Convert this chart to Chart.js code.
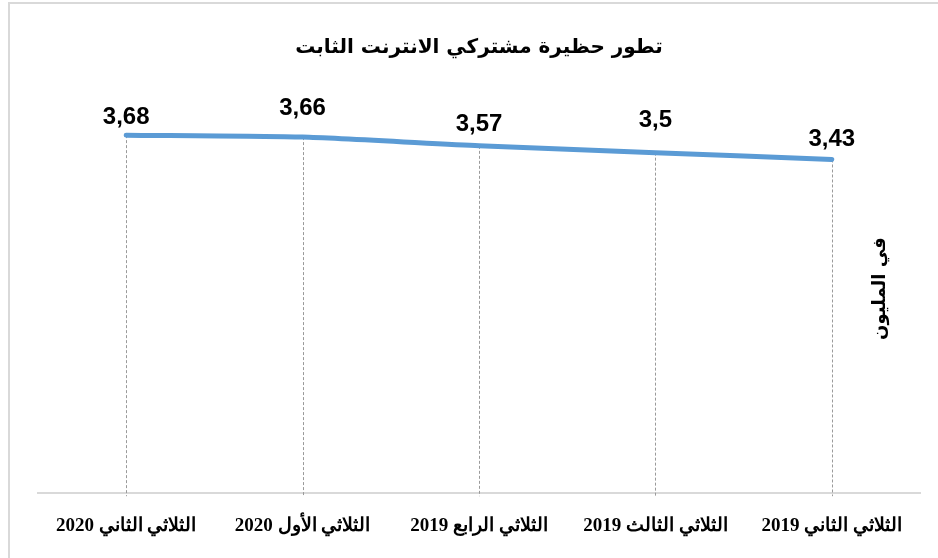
<!DOCTYPE html>
<html>
<head>
<meta charset="utf-8">
<script src="https://cdn.jsdelivr.net/npm/chart.js@4/dist/chart.umd.min.js"></script>
<style>
  body { margin: 0; background: #fff; }
  #wrap { position: relative; width: 938px; height: 558px; overflow: hidden; }
  #frame { position: absolute; left: 8px; top: 2px; width: 960px; height: 600px; border: 2px solid #d9d9d9; box-sizing: border-box; }
  canvas { position: absolute; left: 0; top: 0; }
</style>
</head>
<body>
<div id="wrap">
  <div id="frame"></div>
  <canvas id="chart" width="938" height="558"></canvas>
</div>
<script>
// quarters, oldest first (x axis is reversed so it reads right to left)
const quarters = ['الثلاثي الثاني 2019', 'الثلاثي الثالث 2019', 'الثلاثي الرابع 2019', 'الثلاثي الأول 2020', 'الثلاثي الثاني 2020'];
const subscribers = [3.43, 3.5, 3.57, 3.66, 3.68];
const chartTitle = 'تطور حظيرة مشتركي الانترنت الثابت';
const unitTitle = 'في المليون';

// how far above each point its value sits (px)
const labelLift = [20, 32, 21, 29, 18];

const dropLines = {
    id: 'dropLines',
    beforeDatasetsDraw(chart) {
        const { ctx, chartArea } = chart;
        ctx.save();
        ctx.strokeStyle = '#9a9a9a';
        ctx.lineWidth = 1;
        ctx.setLineDash([3, 2]);
        chart.getDatasetMeta(0).data.forEach(pt => {
            const x = Math.round(pt.x) + 0.5;
            ctx.beginPath();
            ctx.moveTo(x, pt.y);
            ctx.lineTo(x, chartArea.bottom + 3);
            ctx.stroke();
        });
        ctx.restore();
    }
};

const valueLabels = {
    id: 'valueLabels',
    afterDatasetsDraw(chart) {
        const { ctx, chartArea } = chart;
        ctx.save();
        ctx.font = 'bold 24px "Liberation Sans", Arial, sans-serif';
        ctx.fillStyle = '#000';
        ctx.textAlign = 'center';
        ctx.textBaseline = 'middle';
        chart.getDatasetMeta(0).data.forEach((pt, i) => {
            const txt = String(subscribers[i]).replace('.', ',');
            ctx.fillText(txt, pt.x, pt.y - labelLift[i]);
        });
        // unit title, standing on the right inside the plot
        ctx.font = 'bold 18px "DejaVu Sans", "Liberation Serif", serif';
        ctx.translate(chartArea.right - 40, (chartArea.top + chartArea.bottom) / 2 - 10);
        ctx.rotate(-Math.PI / 2);
        ctx.fillText(unitTitle, 0, 0);
        ctx.restore();
    }
};

new Chart(document.getElementById('chart').getContext('2d'), {
    type: 'line',
    data: {
        labels: quarters,
        datasets: [{
            data: subscribers,
            borderColor: '#5b9bd5',
            borderWidth: 5,
            borderCapStyle: 'round',
            tension: 0.2,
            pointRadius: 0,
            fill: false
        }]
    },
    options: {
        responsive: false,
        animation: false,
        layout: { padding: { left: 38, right: 18, top: 0, bottom: 0 } },
        plugins: {
            legend: { display: false },
            tooltip: { enabled: false },
            title: {
                display: true,
                text: chartTitle,
                color: '#000',
                font: { family: '"DejaVu Sans", Arial, sans-serif', size: 20, weight: 'bold' },
                padding: { top: 36, bottom: 44 }
            }
        },
        scales: {
            x: {
                reverse: true,
                offset: true,
                grid: { display: false, drawTicks: false },
                border: { color: '#d9d9d9', width: 2 },
                ticks: {
                    color: '#000',
                    padding: 21,
                    maxRotation: 0,
                    font: { family: '"Liberation Serif", "Times New Roman", serif', size: 19, weight: 'bold' }
                }
            },
            y: {
                display: false,
                min: 0,
                max: 4
            }
        }
    },
    plugins: [dropLines, valueLabels]
});
</script>
</body>
</html>
